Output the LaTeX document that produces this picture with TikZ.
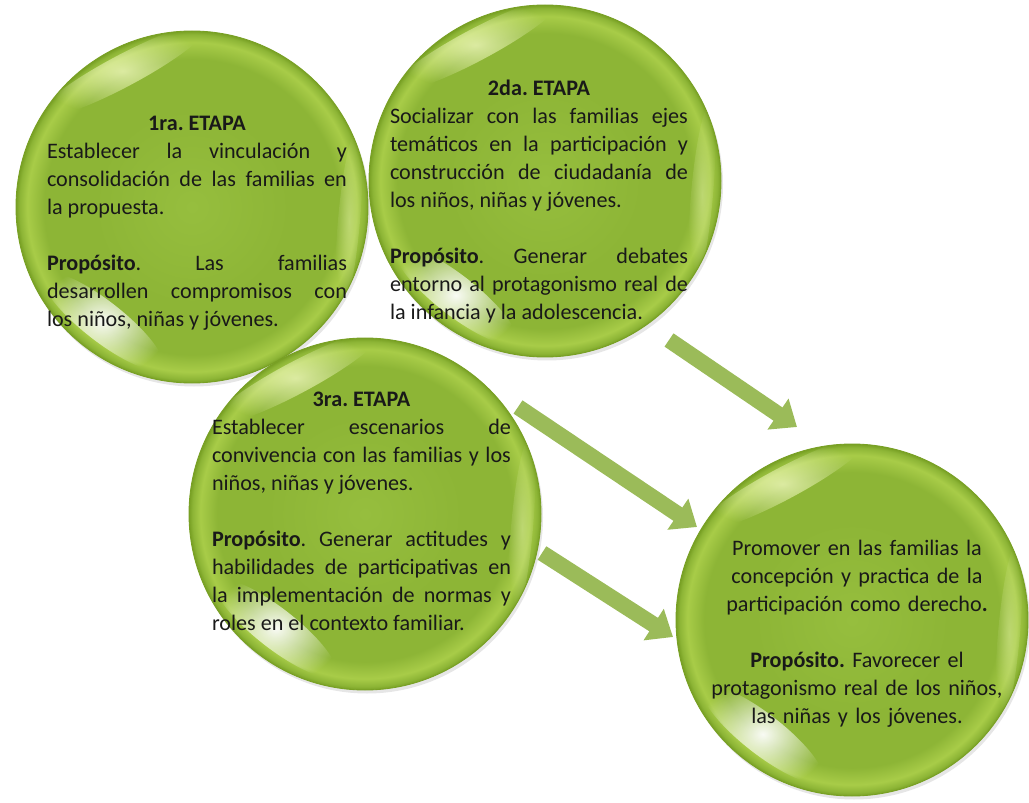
\documentclass[tikz,border=0pt]{standalone}
\usepackage{fontspec}
\setmainfont{Carlito}
\usetikzlibrary{arrows.meta,shadows,fadings}

\definecolor{verdeCentro}{RGB}{150,190,62}
\definecolor{verdeMedio}{RGB}{141,181,54}
\definecolor{verdeAro}{RGB}{168,204,72}
\definecolor{verdeOscuro}{RGB}{120,160,36}
\definecolor{verdeFlecha}{RGB}{155,187,89}
\definecolor{brillo}{RGB}{250,255,205}

\pgfdeclareradialshading{esfera}{\pgfpoint{0bp}{0bp}}{%
  color(0bp)=(verdeCentro); color(14bp)=(verdeMedio); color(21bp)=(verdeMedio);
  color(23.4bp)=(verdeAro); color(24.5bp)=(verdeMedio); color(25bp)=(verdeOscuro);
  color(50bp)=(verdeOscuro)}

\tikzfading[name=desvanecer, inner color=transparent!0, outer color=transparent!100]

\tikzset{
  etapa/.style={circle, minimum size=7.04cm, inner sep=0pt, shading=esfera,
    draw=verdeOscuro, line width=0.5pt,
    drop shadow={opacity=0.2, shadow xshift=0.04cm, shadow yshift=-0.07cm},
    path picture={
      \begin{scope}[shift={(path picture bounding box.center)}]
        % brillo de arriba
        \fill[brillo, fill opacity=0.7, path fading=desvanecer] (-1.385,2.72) ellipse [x radius=1.9cm, y radius=0.32cm, rotate=28];
        % brillo de abajo
        \fill[white, fill opacity=0.95, path fading=desvanecer] (-1.785,-2.285) ellipse [x radius=1.5cm, y radius=0.4cm, rotate=142];
        % borde derecho
        \fill[brillo, fill opacity=0.35, path fading=desvanecer] (3.14,-0.27) ellipse [x radius=0.22cm, y radius=1.8cm, rotate=-5];
      \end{scope}
    }},
  texto/.style={anchor=north, inner sep=0pt, text width=6cm, align=justify,
    text=black!90, font=\fontsize{12.6pt}{15.94pt}\selectfont},
  flecha/.style={line width=3.2mm, draw=verdeFlecha, -{Triangle[width=7.2mm,length=4.6mm]}}
}

\begin{document}
\frenchspacing
\begin{tikzpicture}
    \useasboundingbox (0,0) rectangle (20.58,16.04);

    \node[etapa] (e1) at (3.84,11.90) {};
    \node[etapa] (e2) at (10.90,12.42) {};
    \node[etapa] (e3) at (7.30,5.76) {};
    \node[etapa] (meta) at (17.04,3.64) {};

    \coordinate (f1a) at (13.38,9.24);
    \coordinate (f1b) at (15.94,7.50);
    \coordinate (f2a) at (10.36,7.90);
    \coordinate (f2b) at (13.94,5.50);
    \coordinate (f3a) at (10.84,4.98);
    \coordinate (f3b) at (13.46,3.30);

    \draw[flecha] (f1a) -- (f1b);
    \draw[flecha] (f2a) -- (f2b);
    \draw[flecha] (f3a) -- (f3b);

    \node[texto] (t1) at (3.94,13.73) {{\centering\textbf{1ra. ETAPA}\par}
      Establecer la vinculación y\linebreak consolidación de las familias en\linebreak la propuesta.\par\vspace{\baselineskip}
      \textbf{Propósito}. Las familias\linebreak desarrollen compromisos con\linebreak los niños, niñas y jóvenes.};

    \node[texto, text width=5.96cm] (t2) at (10.78,14.45) {{\centering\textbf{2da. ETAPA}\par}
      Socializar con las familias ejes\linebreak temáticos en la participación y\linebreak construcción de ciudadanía de\linebreak los niños, niñas y jóvenes.\par\vspace{\baselineskip}
      \textbf{Propósito}. Generar debates\linebreak entorno al protagonismo real de\linebreak la infancia y la adolescencia.};

    \node[texto, text width=5.98cm] (t3) at (7.23,8.21) {{\centering\textbf{3ra. ETAPA}\par}
      Establecer escenarios de\linebreak convivencia con las familias y los\linebreak niños, niñas y jóvenes.\par\vspace{\baselineskip}
      \textbf{Propósito}. Generar actitudes y\linebreak habilidades de participativas en\linebreak la implementación de normas y\linebreak roles en el contexto familiar.};

    \node[texto, align=center] (t4) at (17.14,5.24) {Promover en las familias la\\ concepción y practica de la\\ participación como derecho\textbf{.}\\[15.94pt]
      \textbf{Propósito.} Favorecer el\\ protagonismo real de los niños,\\ las niñas y los jóvenes.};

\end{tikzpicture}
\end{document}
